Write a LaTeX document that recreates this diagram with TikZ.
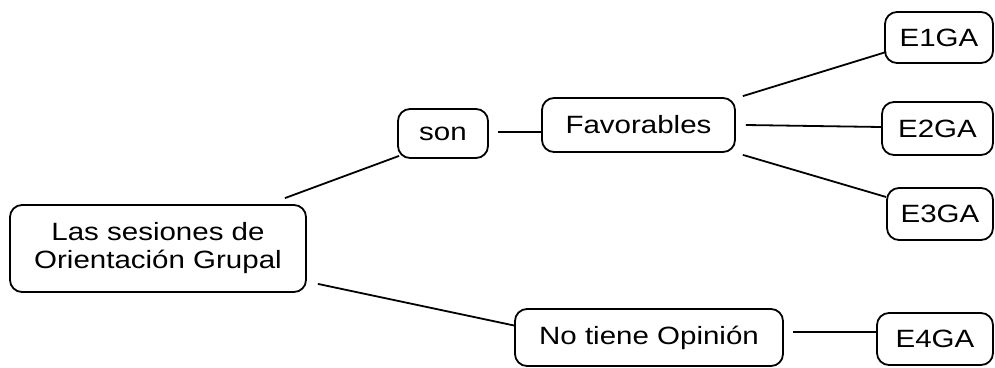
\documentclass[tikz,border=0pt]{standalone}
\usepackage{fontspec}
\setmainfont{Liberation Sans}[FakeStretch=1.18]
\begin{document}
\begin{tikzpicture}[x=1pt,y=-1pt,
  box/.style={draw=black,line width=1.8pt,rounded corners=12pt,inner sep=0pt,
    font=\fontsize{25}{28}\selectfont,text=black,align=center},
  link/.style={draw=black,line width=1.8pt}]
\useasboundingbox (0,0) rectangle (995,367);
\node[box,minimum width=296pt,minimum height=87pt] (las) at (158,248.5) {Las sesiones de\\Orientación Grupal};
\node[box,minimum width=90pt,minimum height=49pt] (son) at (443,133.5) {son};
\node[box,minimum width=193pt,minimum height=54pt] (fav) at (638.5,125) {Favorables};
\node[box,minimum width=108pt,minimum height=51pt] (e1) at (939,37.5) {E1GA};
\node[box,minimum width=111pt,minimum height=53pt] (e2) at (937.5,128.5) {E2GA};
\node[box,minimum width=106pt,minimum height=52pt] (e3) at (940,214) {E3GA};
\node[box,minimum width=268pt,minimum height=57pt] (no) at (649,337.5) {No tiene Opinión};
\node[box,minimum width=116pt,minimum height=52pt] (e4) at (935,339) {E4GA};
\draw[link] ([shift={(-22,-6)}]las.north east) -- ([shift={(2,-3)}]son.south west);
\draw[link] ([shift={(11,-9)}]las.south east) -- ([shift={(0,-12)}]no.west);
\draw[link] ([shift={(9,-1.5)}]son.east) -- ([shift={(0,7)}]fav.west);
\draw[link] ([shift={(7,-1)}]fav.north east) -- ([shift={(2,14.5)}]e1.west);
\draw[link] ([shift={(10,0)}]fav.east) -- ([shift={(0,-1.5)}]e2.west);
\draw[link] ([shift={(7,2)}]fav.south east) -- ([shift={(0,-17)}]e3.west);
\draw[link] ([shift={(9,-5.5)}]no.east) -- ([shift={(0,-7)}]e4.west);
\end{tikzpicture}
\end{document}
